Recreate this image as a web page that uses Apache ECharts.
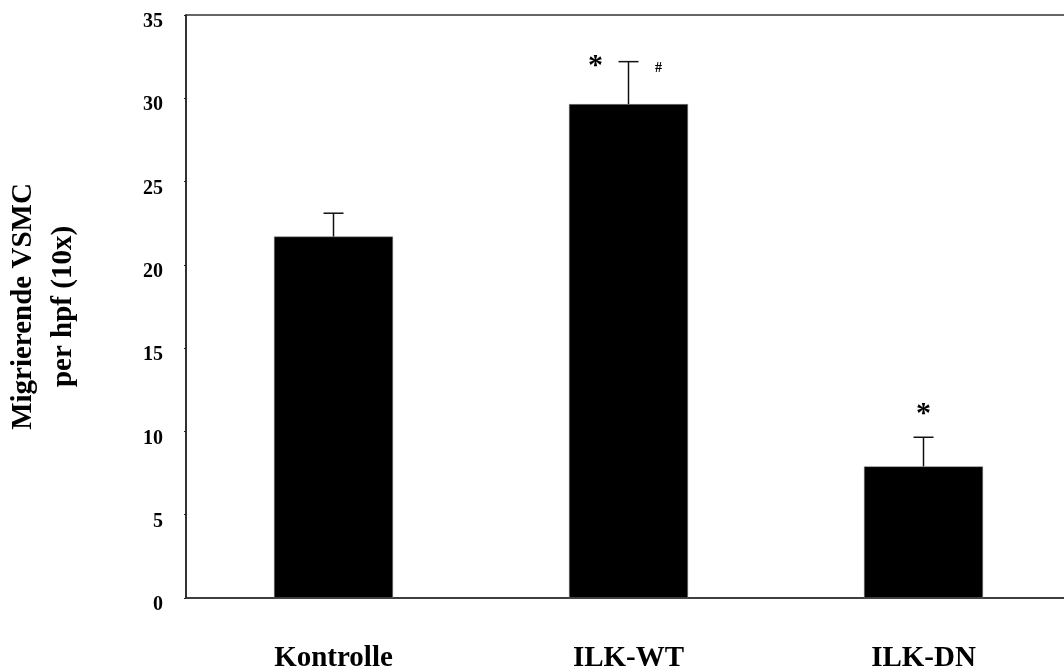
<!DOCTYPE html>
<html>
<head>
<meta charset="utf-8">
<script src="https://cdn.jsdelivr.net/npm/echarts@6/dist/echarts.min.js"></script>
<style>
  html, body { margin: 0; padding: 0; background: #fff; }
  #chart { width: 1064px; height: 669px; }
</style>
</head>
<body>
<div id="chart"></div>
<script>
// Kategorien und Werte
const categories = ['Kontrolle', 'ILK-WT', 'ILK-DN']
const means = [21.7, 29.65, 7.9]
const errors = [1.4, 2.55, 1.75]
const yTicks = [0, 5, 10, 15, 20, 25, 30, 35]

// Signifikanz-Markierungen: Kategorie, Höhe (y-Wert), Text
const markCats = ['ILK-WT', 'ILK-WT', 'ILK-DN']
const markY = [32.0, 31.8, 11.1]
const markText = ['*', '#', '*']

const font = "'Liberation Serif', 'Times New Roman', serif"

const chart = echarts.init(document.getElementById('chart'))

chart.setOption({
  animation: false,
  grid: {
    left: 186,
    right: -7,
    top: 15,
    bottom: 71,
    containLabel: false,
    outerBoundsMode: 'none',
    show: true,
    borderColor: '#333',
    borderWidth: 1.5
  },
  xAxis: {
    type: 'category',
    data: categories,
    axisLine: { show: true, lineStyle: { color: '#333', width: 1.5 } },
    axisTick: { show: false },
    axisLabel: {
      margin: 46,
      color: '#000',
      fontFamily: font,
      fontWeight: 'bold',
      fontSize: 29
    }
  },
  yAxis: {
    type: 'value',
    min: 0,
    max: 35,
    interval: 5,
    name: 'Migrierende VSMC\nper hpf (10x)',
    nameLocation: 'middle',
    nameRotate: 90,
    nameGap: 102,
    nameTextStyle: {
      color: '#000',
      fontFamily: font,
      fontWeight: 'bold',
      fontSize: 29,
      lineHeight: 40
    },
    splitLine: { show: false },
    axisLine: { show: true, lineStyle: { color: '#222', width: 1.5 } },
    axisTick: { show: true, length: 2, lineStyle: { color: '#222' } },
    axisLabel: {
      margin: 23,
      color: '#000',
      fontFamily: font,
      fontWeight: 'bold',
      fontSize: 20,
      verticalAlign: 'top',
      lineHeight: 14,
      formatter: v => (yTicks.includes(v) ? String(v) : '')
    }
  },
  series: [
    {
      name: 'Mittelwert',
      type: 'bar',
      data: means,
      barWidth: 119,
      itemStyle: { color: '#000', borderColor: '#888', borderWidth: 0.5 }
    },
    {
      // Fehlerbalken (nur nach oben)
      name: 'SD',
      type: 'custom',
      data: means.map((m, i) => [i, m, m + errors[i]]),
      z: 3,
      renderItem: (params, api) => {
        const base = api.coord([api.value(0), api.value(1)])
        const top = api.coord([api.value(0), api.value(2)])
        const half = 10
        return {
          type: 'group',
          children: [
            { type: 'line', shape: { x1: base[0], y1: base[1], x2: top[0], y2: top[1] },
              style: { stroke: '#111', lineWidth: 1.5 } },
            { type: 'line', shape: { x1: top[0] - half, y1: top[1], x2: top[0] + half, y2: top[1] },
              style: { stroke: '#111', lineWidth: 1.5 } }
          ]
        }
      }
    },
    {
      // Sternchen und Raute
      name: 'Signifikanz',
      type: 'custom',
      data: markCats.map((c, i) => [categories.indexOf(c), markY[i], i]),
      z: 4,
      renderItem: (params, api) => {
        const i = api.value(2)
        const p = api.coord([api.value(0), api.value(1)])
        const isHash = markText[i] === '#'
        const dx = markCats[i] === 'ILK-WT' ? (isHash ? 30 : -33) : 0
        return {
          type: 'text',
          style: {
            x: p[0] + dx,
            y: p[1] + (isHash ? 0 : 1),
            text: markText[i],
            fill: '#000',
            font: `bold ${isHash ? 14 : 30}px ${font}`,
            textAlign: 'center',
            textVerticalAlign: 'middle'
          }
        }
      }
    }
  ]
})
</script>
</body>
</html>
